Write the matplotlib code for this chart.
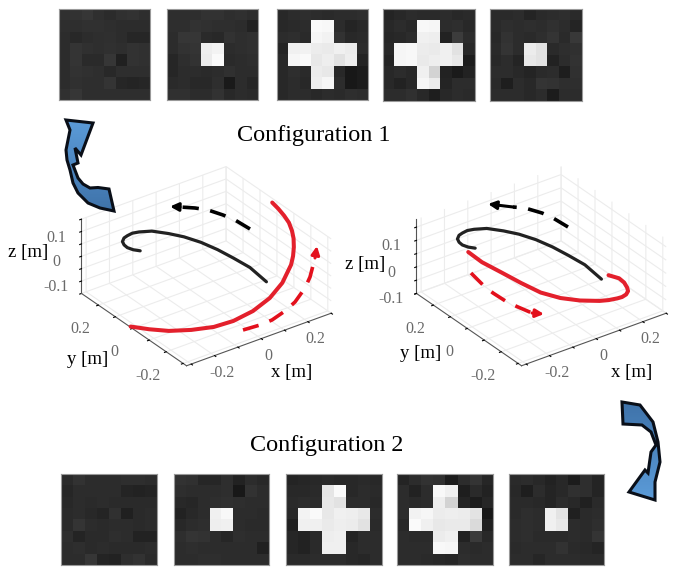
import matplotlib
matplotlib.use("Agg")
import matplotlib.pyplot as plt
from matplotlib.patches import Polygon
import numpy as np

plt.rcParams["font.family"] = ["Liberation Serif", "DejaVu Serif"]

# sensor frames, configuration 1 (grey levels)
top_1 = [[48, 50, 54, 47, 43, 48, 50, 46], [46, 46, 48, 48, 46, 45, 44, 44],
         [44, 40, 44, 46, 47, 44, 38, 38], [44, 52, 48, 46, 48, 46, 50, 48],
         [44, 52, 42, 42, 54, 32, 50, 48], [44, 50, 48, 46, 40, 46, 46, 46],
         [44, 48, 46, 46, 52, 38, 36, 38], [48, 54, 46, 46, 46, 46, 46, 46]]
top_2 = [[46, 46, 46, 50, 50, 46, 48, 44], [46, 46, 50, 48, 46, 46, 44, 34],
         [44, 54, 54, 42, 40, 50, 46, 48], [44, 50, 52, 238, 244, 44, 46, 48],
         [38, 46, 50, 236, 250, 42, 44, 46], [38, 44, 44, 42, 44, 48, 44, 44],
         [42, 44, 40, 40, 46, 26, 44, 38], [48, 48, 44, 44, 50, 40, 44, 42]]
top_3 = [[40, 44, 46, 44, 42, 44, 44, 46], [40, 42, 44, 250, 248, 44, 36, 40],
         [44, 46, 42, 246, 242, 50, 40, 42], [36, 240, 242, 236, 234, 240, 236, 44],
         [40, 246, 250, 232, 238, 226, 238, 36], [40, 46, 42, 236, 232, 40, 24, 28],
         [40, 44, 40, 238, 246, 44, 24, 28], [40, 44, 44, 40, 44, 42, 46, 44]]
top_4 = [[36, 40, 44, 42, 42, 44, 40, 42], [40, 44, 40, 248, 246, 44, 46, 40],
         [38, 40, 44, 240, 238, 34, 60, 44], [40, 246, 248, 236, 234, 240, 226, 40],
         [36, 246, 248, 234, 238, 240, 232, 28], [40, 44, 40, 240, 212, 34, 26, 34],
         [40, 34, 40, 246, 236, 36, 44, 44], [44, 44, 48, 40, 30, 40, 44, 42]]
top_5 = [[42, 42, 44, 36, 42, 44, 46, 42], [42, 46, 44, 46, 44, 48, 44, 36],
         [40, 50, 44, 42, 46, 52, 42, 56], [42, 52, 44, 236, 226, 42, 46, 48],
         [40, 44, 36, 232, 226, 34, 44, 50], [44, 44, 40, 36, 42, 44, 30, 48],
         [42, 30, 44, 40, 52, 50, 46, 46], [44, 44, 44, 40, 44, 28, 44, 44]]

# sensor frames, configuration 2
bot_1 = [[42, 50, 44, 44, 44, 46, 46, 44], [38, 44, 44, 44, 44, 36, 34, 36],
         [40, 44, 42, 44, 42, 42, 42, 42], [42, 44, 40, 36, 48, 32, 42, 44],
         [42, 52, 44, 42, 44, 44, 42, 44], [46, 36, 42, 42, 46, 44, 34, 34],
         [44, 46, 42, 44, 42, 42, 42, 44], [44, 44, 54, 36, 34, 46, 50, 42]]
bot_2 = [[50, 48, 38, 38, 46, 34, 44, 40], [46, 44, 44, 44, 46, 24, 50, 44],
         [40, 38, 44, 46, 48, 46, 44, 44], [34, 40, 44, 240, 248, 44, 44, 42],
         [40, 44, 46, 238, 240, 44, 42, 42], [46, 52, 50, 44, 38, 46, 44, 44],
         [44, 46, 44, 44, 44, 44, 44, 32], [44, 44, 46, 46, 44, 44, 44, 44]]
bot_3 = [[36, 38, 40, 42, 40, 40, 42, 40], [40, 40, 42, 230, 250, 40, 44, 42],
         [42, 44, 44, 232, 226, 44, 44, 40], [40, 244, 250, 232, 240, 238, 232, 44],
         [32, 240, 240, 234, 238, 236, 226, 42], [38, 34, 42, 238, 240, 36, 44, 44],
         [38, 34, 42, 240, 240, 40, 44, 44], [42, 42, 44, 44, 44, 40, 38, 44]]
bot_4 = [[36, 44, 50, 48, 28, 44, 52, 38], [44, 34, 44, 248, 240, 30, 42, 34],
         [44, 42, 44, 238, 212, 36, 28, 38], [44, 242, 246, 236, 238, 236, 228, 24],
         [40, 250, 240, 232, 234, 234, 218, 32], [44, 42, 42, 236, 240, 34, 58, 40],
         [44, 44, 44, 248, 246, 44, 42, 44], [44, 44, 42, 40, 38, 46, 44, 44]]
bot_5 = [[42, 44, 40, 34, 40, 28, 46, 36], [40, 30, 44, 36, 40, 48, 46, 36],
         [42, 42, 40, 36, 44, 40, 32, 42], [42, 46, 44, 240, 228, 32, 42, 44],
         [44, 46, 44, 240, 232, 44, 42, 46], [44, 46, 42, 42, 42, 44, 42, 52],
         [42, 44, 44, 44, 50, 42, 40, 36], [44, 44, 38, 44, 44, 44, 42, 42]]

# trajectories, metres
black_x = [0.095, 0.107, 0.099, 0.089, 0.072, 0.047, 0.017, -0.020, -0.059, -0.083, -0.107, -0.126, -0.145, -0.154, -0.156, -0.148, -0.133]
black_y = [-0.220, -0.106, -0.019, 0.060, 0.135, 0.200, 0.250, 0.298, 0.319, 0.326, 0.322, 0.316, 0.299, 0.277, 0.255, 0.231, 0.211]
black_z_left = [0.0] * 17
black_z_right = [0.05] * 17

red_left_x = [0.303, 0.300, 0.293, 0.283, 0.264, 0.247, 0.222, 0.194, 0.163, 0.095, 0.028, -0.042, -0.107, -0.156, -0.211, -0.258, -0.286, -0.317]
red_left_y = [0.032, -0.008, -0.052, -0.094, -0.138, -0.171, -0.207, -0.241, -0.272, -0.314, -0.332, -0.329, -0.303, -0.255, -0.198, -0.130, -0.053, 0.014]
red_left_z = [0.13, 0.125, 0.12, 0.115, 0.11, 0.10, 0.09, 0.08, 0.07, 0.04, 0.01, -0.02, -0.05, -0.08, -0.10, -0.12, -0.14, -0.15]

red_right_x = [0.185, 0.202, 0.199, 0.187, 0.175, 0.156, 0.134, 0.115, 0.084, 0.055, 0.002, -0.043, -0.076, -0.092, -0.104, -0.117, -0.114]
red_right_y = [-0.138, -0.177, -0.211, -0.245, -0.267, -0.282, -0.288, -0.286, -0.278, -0.264, -0.222, -0.168, -0.097, -0.004, 0.094, 0.193, 0.278]
red_right_z = [0.0] * 17

xy_ticks = [-0.3, -0.2, -0.1, 0.0, 0.1, 0.2, 0.3]
xy_labels = ["", "-0.2", "", "0", "", "0.2", ""]
z_ticks = [-0.1, -0.05, 0.0, 0.05, 0.1, 0.15]
z_labels = ["-0.1", "", "0", "", "0.1", ""]

W, H = 686, 570
fig = plt.figure(figsize=(W / 100, H / 100), dpi=100)


def px_axes(x0, y0, x1, y1, **kw):
    return fig.add_axes([x0 / W, 1 - y1 / H, (x1 - x0) / W, (y1 - y0) / H], **kw)


def draw_frame(frame, box):
    ax = px_axes(*box)
    ax.imshow(frame, cmap="gray", vmin=0, vmax=255, interpolation="nearest", aspect="auto")
    ax.set_xticks([])
    ax.set_yticks([])
    for s in ax.spines.values():
        s.set_color("#999999")
        s.set_linewidth(0.8)


def draw_orbit(cx, zlim, black_z, red_x, red_y, red_z):
    ax = px_axes(cx - 160 - 3.5, 270.5 - 160, cx + 160 - 3.5, 270.5 + 160, projection="3d", proj_type="ortho")
    ax.patch.set_alpha(0)
    ax.view_init(elev=30, azim=-126)
    ax.set_box_aspect((1, 1, 0.48), zoom=0.81)
    ax.set_xlim(-0.32, 0.30)
    ax.set_ylim(-0.32, 0.30)
    ax.set_zlim(*zlim)
    ax.set_xticks(xy_ticks, xy_labels)
    ax.set_yticks(xy_ticks, xy_labels)
    ax.set_zticks(z_ticks, z_labels)
    ax.tick_params(labelsize=11.5, labelcolor="#6a6a6a", pad=0)
    ax.yaxis.set_tick_params(pad=7)
    ax.zaxis.set_tick_params(pad=4)
    for axis in (ax.xaxis, ax.yaxis, ax.zaxis):
        axis.set_pane_color((1, 1, 1, 0))
        axis._axinfo["grid"].update(color="#ececec", linewidth=0.8)
        axis._axinfo["axisline"]["color"] = "#555555"
        axis._axinfo["tick"].update(inward_factor=0.15, outward_factor=0.0, color="#555555")
        axis.line.set_color("#555555")
    ax.plot(red_x, red_y, red_z, color="#e3202c", lw=2.9, solid_capstyle="round", solid_joinstyle="round")
    ax.plot(black_x, black_y, black_z, color="#222222", lw=2.3, solid_capstyle="round", solid_joinstyle="round")
    return ax


frames_top = [top_1, top_2, top_3, top_4, top_5]
boxes_top = [(59, 9, 150, 100), (167, 9, 258, 100), (277, 9, 368, 100), (383, 9, 475, 101), (490, 9, 582, 101)]
frames_bot = [bot_1, bot_2, bot_3, bot_4, bot_5]
boxes_bot = [(61, 474, 157, 565), (174, 474, 269, 565), (286, 474, 382, 565), (397, 474, 493, 565), (509, 474, 604, 565)]
for f, b in zip(frames_top + frames_bot, boxes_top + boxes_bot):
    draw_frame(f, b)

draw_orbit(205.5, (-0.15, 0.13), black_z_left, red_left_x, red_left_y, red_left_z)
draw_orbit(540.5, (-0.10, 0.18), black_z_right, red_right_x, red_right_y, red_right_z)

# annotation layer in pixel coordinates
over = fig.add_axes([0, 0, 1, 1], zorder=10)
over.set_xlim(0, W)
over.set_ylim(H, 0)
over.axis("off")
over.patch.set_alpha(0)

over.text(314, 135, "Configuration 1", fontsize=17.4, ha="center", va="center")
over.text(327, 446, "Configuration 2", fontsize=17.4, ha="center", va="center")
for x, y, s in [(28, 253, "z [m]"), (88, 360, "y [m]"), (292, 372, "x [m]"),
                (365, 264, "z [m]"), (421, 354, "y [m]"), (632, 373, "x [m]")]:
    over.text(x, y, s, fontsize=13.5, ha="center", va="center")

dash_black_left = ([250, 235, 223, 208, 195, 180], [229, 220, 215, 210, 208, 207], (170, 206.5))
dash_red_left = ([243, 260, 272, 285, 295, 305, 310, 315], [330, 325, 320, 311, 302, 288, 277, 258], (317, 246))
dash_black_right = ([568, 553, 542, 525, 513], [227, 218, 213, 208, 207], (488, 204))
dash_red_right = ([471, 483, 493, 507, 518, 532], [273, 285, 293, 302, 307, 313], (544, 314))
for (xs, ys, tip), c in [(dash_black_left, "black"), (dash_red_left, "#e3101c"),
                         (dash_black_right, "black"), (dash_red_right, "#e3101c")]:
    over.plot(xs, ys, color=c, lw=2.6, linestyle=(0, (4.5, 3.2)))
    over.annotate("", xy=tip, xytext=(xs[-1], ys[-1]),
                  arrowprops=dict(arrowstyle="-|>", color=c, lw=2.2, mutation_scale=12, shrinkA=0, shrinkB=0))

arrow_up = [(66, 120), (93, 123), (81, 155), (75, 148), (78, 163), (73, 165), (78, 178), (83, 184), (90, 188), (98, 187.5),
            (109, 189), (114, 211), (100, 208), (88, 203), (78, 193), (73, 183), (70, 170), (67, 160), (66, 150), (70, 130)]
arrow_down = [(622, 402), (640, 405), (653, 422), (658, 442), (660, 462), (655, 482), (655, 500),
              (629, 492), (645, 470), (648, 473), (651, 452), (656, 445), (651, 432), (642, 425), (623, 424)]
for pts, top_c, bot_c in [(arrow_up, "#5b9bd8", "#3f73aa"), (arrow_down, "#3f73aa", "#5b9bd8")]:
    poly = Polygon(pts, closed=True, facecolor="none", edgecolor="#0a0f18", lw=2.2, joinstyle="miter", zorder=3)
    over.add_patch(poly)
    xs = [p[0] for p in pts]
    ys = [p[1] for p in pts]
    shade = np.linspace(0, 1, 64).reshape(-1, 1)
    cmap = matplotlib.colors.LinearSegmentedColormap.from_list("a", [top_c, bot_c])
    im = over.imshow(shade, cmap=cmap, extent=(min(xs), max(xs), max(ys), min(ys)), aspect="auto", zorder=2)
    im.set_clip_path(poly)
over.set_xlim(0, W)
over.set_ylim(H, 0)

fig.savefig("out.png", dpi=100, facecolor="white")
